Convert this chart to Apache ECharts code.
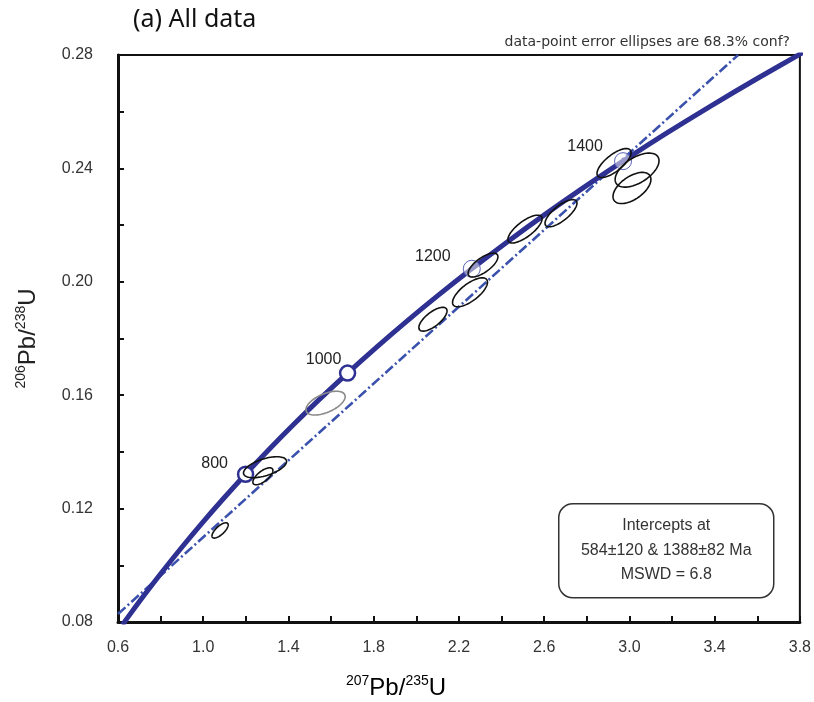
<!DOCTYPE html>
<html>
<head>
<meta charset="utf-8">
<script src="https://cdn.jsdelivr.net/npm/echarts@6/dist/echarts.min.js"></script>
<style>
  html, body { margin: 0; padding: 0; background: #fff; }
  #chart { width: 814px; height: 702px; }
</style>
</head>
<body>
<div id="chart"></div>
<script>
// Concordia curve: age (Ma) with 207Pb/235U and 206Pb/238U ratios
const concordiaAge = [490, 500, 550, 600, 650, 700, 750, 800, 850, 900, 950, 1000, 1050, 1100,
  1150, 1200, 1250, 1300, 1350, 1400, 1450, 1500, 1550, 1600];
const concordiaX = [0.6203, 0.6363, 0.7189, 0.8057, 0.8968, 0.9925, 1.0931, 1.1987, 1.3097, 1.4263,
  1.5488, 1.6774, 1.8126, 1.9545, 2.1036, 2.2603, 2.4249, 2.5977, 2.7793, 2.9701, 3.1705, 3.3814,
  3.6021, 3.8344];
const concordiaY = [0.07898, 0.08065, 0.08906, 0.09754, 0.10609, 0.11470, 0.12338, 0.13213, 0.14094,
  0.14983, 0.15878, 0.16780, 0.17690, 0.18606, 0.19530, 0.20460, 0.21398, 0.22344, 0.23296, 0.24256,
  0.25224, 0.26199, 0.27181, 0.28172];

// Labelled ages on the concordia
const markerAges = [800, 1000, 1200, 1400];

// Discordia through the 584 Ma and 1388 Ma intercepts
const discordiaX = [0.60, 3.51];
const discordiaY = [0.0828, 0.2800];

// Analyses: centre, half-extent in x and y, error correlation
const ellipseX = [1.079, 1.290, 1.280, 1.574, 2.078, 2.252, 2.313, 2.510, 2.679, 2.928, 3.036, 3.012];
const ellipseY = [0.1123, 0.1346, 0.1314, 0.1572, 0.1868, 0.1963, 0.2059, 0.2186, 0.2242, 0.2419, 0.2394, 0.2331];
const ellipseHalfX = [0.038, 0.101, 0.047, 0.092, 0.066, 0.082, 0.070, 0.080, 0.075, 0.080, 0.103, 0.089];
const ellipseHalfY = [0.0027, 0.0037, 0.0030, 0.0042, 0.0042, 0.0051, 0.0042, 0.0049, 0.0048, 0.0051, 0.0060, 0.0055];
const ellipseRho = [0.72, 0.55, 0.68, 0.55, 0.70, 0.70, 0.70, 0.74, 0.74, 0.72, 0.55, 0.55];

const xTicks = { min: 0.6, max: 3.8, step: 0.2 };
const yTicks = { min: 0.08, max: 0.28, step: 0.02 };

const infoLines = ['Intercepts at', '584\u00b1120 & 1388\u00b182 Ma', 'MSWD = 6.8'];

const NAVY = '#2e3192';
const DASH_BLUE = '#3a52ad';
const FONT = '"Liberation Sans", Arial, sans-serif';
const excludedEllipse = 3; // drawn in grey

const concordiaData = concordiaAge.map((a, i) => [concordiaX[i], concordiaY[i]]);
const discordiaData = discordiaX.map((x, i) => [x, discordiaY[i]]);
const ellipseData = ellipseX.map((x, i) => [x, ellipseY[i], ellipseHalfX[i], ellipseHalfY[i], ellipseRho[i]]);

// label offsets (px) for the age markers
const markerLabelOffset = { 800: [-31, -11], 1000: [-24, -13], 1200: [-39, -12], 1400: [-38, -15] };
const markerData = markerAges.map(age => {
  const i = concordiaAge.indexOf(age);
  const bold = age <= 1000;
  return {
    value: [concordiaX[i], concordiaY[i]],
    symbolSize: bold ? 15 : 17,
    itemStyle: bold
      ? { color: '#fff', borderColor: NAVY, borderWidth: 2.5, opacity: 1 }
      : { color: 'rgba(255,255,255,0.5)', borderColor: '#5a63b8', borderWidth: 1, opacity: 1 },
    label: {
      show: true, formatter: String(age), position: 'inside',
      offset: markerLabelOffset[age], color: '#222', fontSize: 16, fontFamily: FONT
    }
  };
});

function renderEllipse(params, api) {
  const cx = api.value(0), cy = api.value(1);
  const hx = api.value(2), hy = api.value(3), rho = api.value(4);
  const s = Math.sqrt(1 - rho * rho);
  const pts = [];
  const n = 72;
  for (let k = 0; k < n; k++) {
    const t = (2 * Math.PI * k) / n;
    const c = Math.cos(t), sn = Math.sin(t);
    pts.push(api.coord([cx + hx * c, cy + hy * (rho * c + s * sn)]));
  }
  const grey = params.dataIndex === excludedEllipse;
  return {
    type: 'polygon',
    shape: { points: pts },
    style: { fill: null, stroke: grey ? '#8a8a8a' : '#111', lineWidth: 1.6 }
  };
}

const chart = echarts.init(document.getElementById('chart'), null, { renderer: 'canvas' });

const supRich = {
  sup: { fontSize: 14, fontFamily: FONT, color: '#222', verticalAlign: 'top', lineHeight: 28 },
  big: { fontSize: 24, fontFamily: FONT, color: '#222', lineHeight: 28 }
};

chart.setOption({
  animation: false,
  backgroundColor: '#fff',
  grid: { left: 118, right: 14, top: 55, bottom: 80, show: true, borderColor: '#111', borderWidth: 2 },
  xAxis: {
    type: 'value', min: xTicks.min, max: xTicks.max, interval: xTicks.step,
    axisLine: { lineStyle: { color: '#111', width: 3 } },
    axisTick: { inside: true, length: 6, lineStyle: { color: '#111', width: 2 } },
    axisLabel: {
      margin: 18, fontSize: 16, color: '#333', fontFamily: FONT,
      formatter: v => (Math.round(v * 10) % 4 === 2 ? v.toFixed(1) : '')
    },
    splitLine: { show: false }
  },
  yAxis: {
    type: 'value', min: yTicks.min, max: yTicks.max, interval: yTicks.step,
    axisLine: { lineStyle: { color: '#111', width: 3 } },
    axisTick: { inside: true, length: 6, lineStyle: { color: '#111', width: 2 } },
    axisLabel: {
      margin: 25, fontSize: 16, color: '#333', fontFamily: FONT,
      formatter: v => (Math.round(v * 100) % 4 === 0 ? v.toFixed(2) : '')
    },
    splitLine: { show: false },
    name: '{sup|206}{big|Pb/}{sup|238}{big|U}',
    nameLocation: 'middle', nameGap: 76, nameRotate: 90,
    nameTextStyle: { rich: supRich }
  },
  graphic: [
    {
      type: 'text', left: 133, top: 7,
      style: { text: '(a) All data', fontSize: 25, fontFamily: '"Noto Sans", sans-serif', fill: '#111' }
    },
    {
      type: 'text', right: 24, top: 35,
      style: { text: 'data-point error ellipses are 68.3% conf?', fontSize: 14, fontFamily: '"DejaVu Sans", sans-serif', fill: '#333' }
    },
    {
      type: 'text', left: 346, top: 674,
      style: { rich: supRich, text: '{sup|207}{big|Pb/}{sup|235}{big|U}' }
    },
    {
      type: 'group', left: 558, top: 503,
      children: [
        {
          type: 'rect', shape: { x: 0, y: 0, width: 215, height: 94, r: 14 },
          style: { fill: '#fff', stroke: '#333', lineWidth: 1.5 }
        },
        ...infoLines.map((t, i) => ({
          type: 'text', x: 107.5, y: 22 + i * 24.5,
          style: { text: t, fontSize: 16, fontFamily: FONT, fill: '#333', align: 'center', verticalAlign: 'middle' }
        }))
      ]
    }
  ],
  series: [
    {
      type: 'line', data: discordiaData, showSymbol: false, z: 2, clip: true,
      lineStyle: { color: DASH_BLUE, width: 2.6, type: [10, 3, 2, 3] }
    },
    {
      type: 'line', data: concordiaData, showSymbol: false, smooth: 0.3, z: 3, clip: true,
      lineStyle: { color: NAVY, width: 5 }
    },
    {
      type: 'scatter', data: markerData, symbol: 'circle', z: 4
    },
    {
      type: 'custom', data: ellipseData, renderItem: renderEllipse, z: 5, clip: true,
      encode: { x: 0, y: 1 }
    }
  ]
});
</script>
</body>
</html>
